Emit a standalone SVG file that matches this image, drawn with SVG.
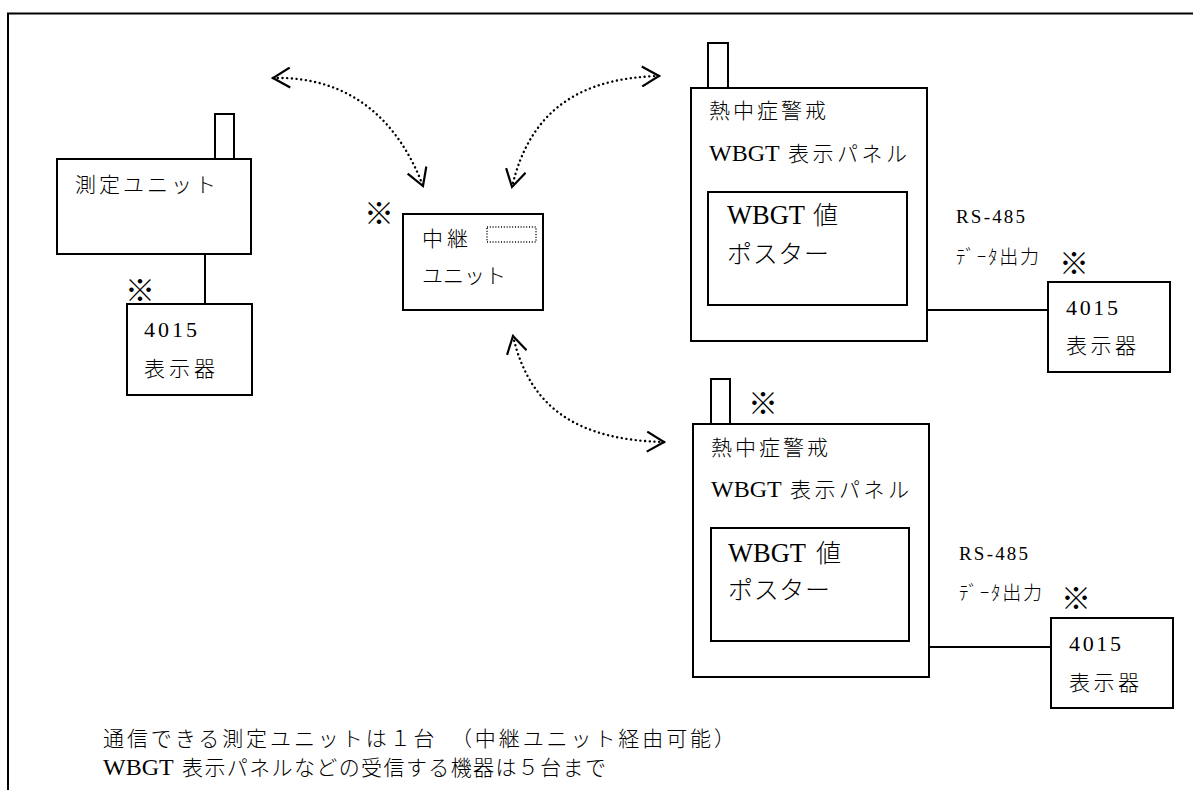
<svg xmlns="http://www.w3.org/2000/svg" width="1193" height="790" viewBox="0 0 1193 790">
<style>
.box{fill:#fff;stroke:#000;stroke-width:2}
.ln{fill:none;stroke:#000;stroke-width:2}
.dot{fill:none;stroke:#000;stroke-width:2.4;stroke-dasharray:0.1 4.6;stroke-linecap:round}
text{font-family:"Liberation Serif","DejaVu Serif","Noto Sans CJK JP",serif;fill:#000;font-weight:300}
.t{font-size:21px}
.n{font-size:22px}
.w{font-size:24px}
.b{font-size:25px}
.bw{font-size:26.5px}
.s{font-size:19px}
.k{font-size:30px;text-anchor:middle}
</style>
<defs>
<marker id="ah" viewBox="0 0 20 22" refX="18" refY="11" markerWidth="20" markerHeight="22" markerUnits="userSpaceOnUse" orient="auto-start-reverse">
<path d="M1,1 L18,11 L1,21" fill="none" stroke="#000" stroke-width="2.2"/>
</marker>
</defs>
<rect width="1193" height="790" fill="#fff"/>
<path class="ln" d="M8,790 L8,13.5 L1193,13.5"/>

<g id="measure-unit">
<rect class="box" x="215" y="114" width="19" height="45"/>
<rect class="box" x="57" y="159" width="194" height="95"/>
<text class="t" x="75" y="192" textLength="141" lengthAdjust="spacing">測定ユニット</text>
</g>

<g id="display-left">
<rect class="box" x="127" y="304" width="125" height="91"/>
<text class="n" x="144" y="337" textLength="53" lengthAdjust="spacing">4015</text>
<text class="t" x="144" y="376" textLength="71" lengthAdjust="spacing">表示器</text>
<text class="k" x="140" y="301">※</text>
</g>

<g id="relay-unit">
<rect class="box" x="403" y="214" width="140" height="96"/>
<rect x="487" y="227" width="49" height="15" fill="none" stroke="#000" stroke-width="1.5" stroke-dasharray="1 1.8"/>
<text class="t" x="422" y="246" textLength="46" lengthAdjust="spacing">中継</text>
<text class="t" x="422" y="283" textLength="84" lengthAdjust="spacing">ユニット</text>
<text class="k" x="379" y="224">※</text>
</g>

<g id="panel-1">
<rect class="box" x="708" y="43" width="20" height="45"/>
<rect class="box" x="691" y="88" width="236" height="253"/>
<text class="t" x="709" y="118" textLength="117" lengthAdjust="spacing">熱中症警戒</text>
<text class="w" x="709" y="161">WBGT</text>
<text class="t" x="788" y="161" textLength="119" lengthAdjust="spacing">表示パネル</text>
<rect class="box" x="708" y="192" width="199" height="113"/>
<text class="bw" x="727" y="224">WBGT</text>
<text class="b" x="813" y="224">値</text>
<text class="b" x="727" y="263" textLength="102" lengthAdjust="spacing">ポスター</text>
<text class="s" x="956" y="223" textLength="69" lengthAdjust="spacing">RS-485</text>
<text class="s" x="956" y="264" textLength="83" lengthAdjust="spacing">ﾃﾞｰﾀ出力</text>
</g>

<g id="display-right-1">
<rect class="box" x="1048" y="282" width="122" height="90"/>
<text class="n" x="1066" y="315" textLength="52" lengthAdjust="spacing">4015</text>
<text class="t" x="1066" y="353" textLength="70" lengthAdjust="spacing">表示器</text>
<text class="k" x="1074" y="274">※</text>
</g>

<g id="panel-2">
<rect class="box" x="711" y="379" width="19" height="45"/>
<text class="k" x="763" y="414">※</text>
<rect class="box" x="693" y="424" width="236" height="253"/>
<text class="t" x="711" y="455" textLength="117" lengthAdjust="spacing">熱中症警戒</text>
<text class="w" x="711" y="497">WBGT</text>
<text class="t" x="790" y="497" textLength="119" lengthAdjust="spacing">表示パネル</text>
<rect class="box" x="711" y="528" width="198" height="113"/>
<text class="bw" x="728" y="562">WBGT</text>
<text class="b" x="816" y="562">値</text>
<text class="b" x="728" y="599" textLength="102" lengthAdjust="spacing">ポスター</text>
<text class="s" x="959" y="560" textLength="69" lengthAdjust="spacing">RS-485</text>
<text class="s" x="959" y="600" textLength="83" lengthAdjust="spacing">ﾃﾞｰﾀ出力</text>
</g>

<g id="display-right-2">
<rect class="box" x="1051" y="618" width="122" height="90"/>
<text class="n" x="1069" y="651" textLength="52" lengthAdjust="spacing">4015</text>
<text class="t" x="1069" y="690" textLength="70" lengthAdjust="spacing">表示器</text>
<text class="k" x="1076" y="609">※</text>
</g>

<g id="connectors">
<line class="ln" x1="205" y1="254" x2="205" y2="304"/>
<line class="ln" x1="927" y1="310" x2="1048" y2="310"/>
<line class="ln" x1="929" y1="647" x2="1051" y2="647"/>
<path class="dot" d="M273,78 C350,76 398,120 423,186" marker-start="url(#ah)" marker-end="url(#ah)"/>
<path class="dot" d="M659,76 C580,78 530,110 512,187" marker-start="url(#ah)" marker-end="url(#ah)"/>
<path class="dot" d="M513,336 C530,410 580,440 664,442" marker-start="url(#ah)" marker-end="url(#ah)"/>
</g>

<g id="notes">
<text class="t" x="103" y="746" textLength="632" lengthAdjust="spacing">通信できる測定ユニットは１台　（中継ユニット経由可能）</text>
<text class="w" x="103" y="775">WBGT</text>
<text class="t" x="182" y="775" textLength="424" lengthAdjust="spacing">表示パネルなどの受信する機器は５台まで</text>
</g>
</svg>
